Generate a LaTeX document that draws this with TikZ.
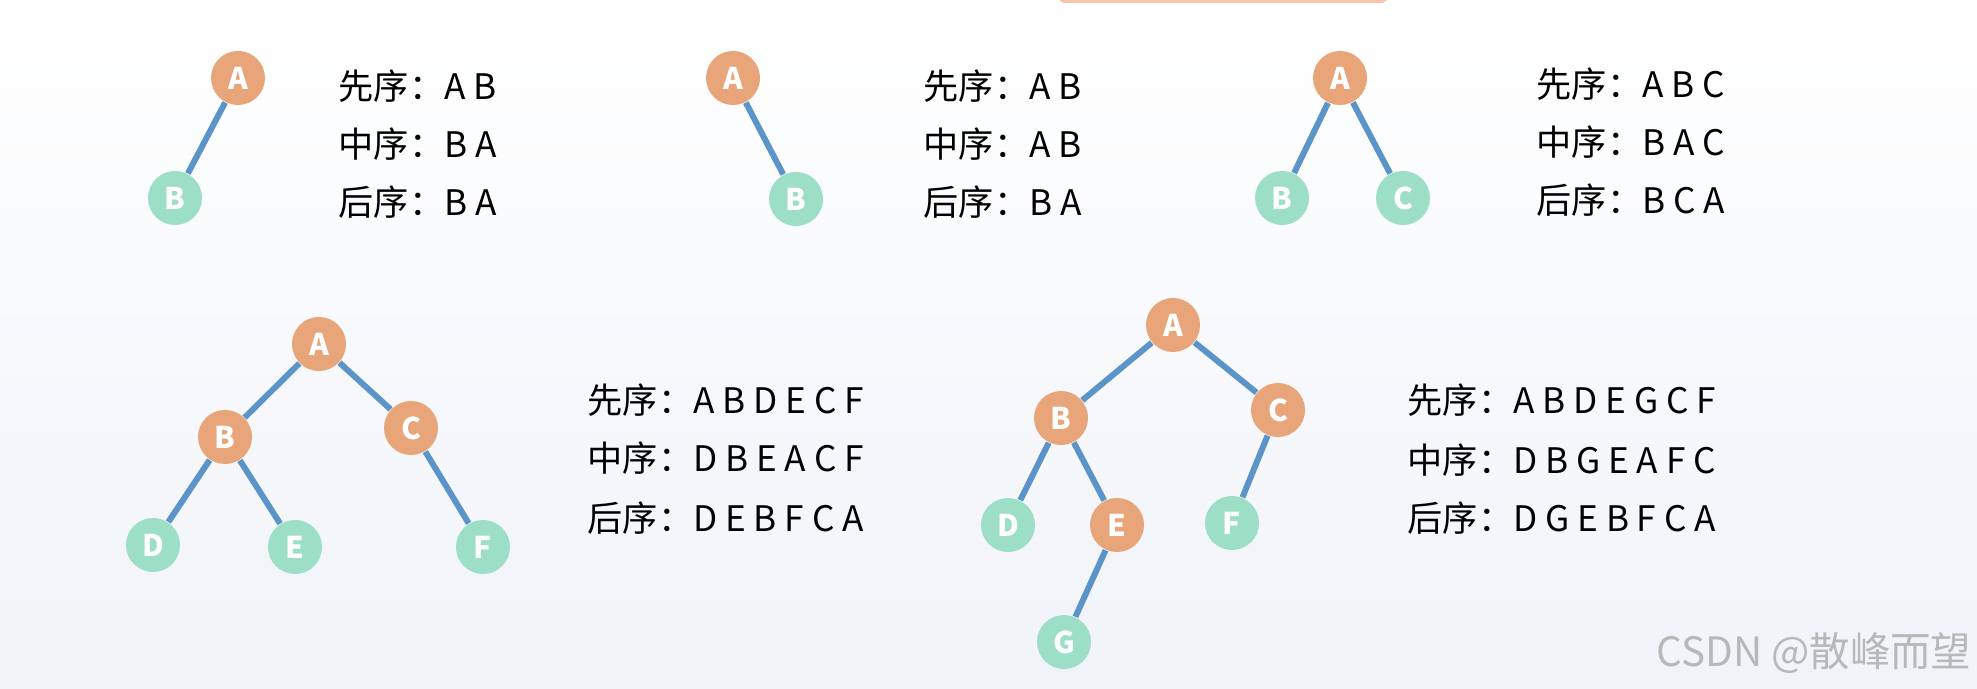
\documentclass[tikz,border=0pt]{standalone}
\usepackage{fontspec}
\setmainfont{Noto Sans CJK SC}
\usepackage{tikz}

\definecolor{nodeorange}{RGB}{233,165,122}
\definecolor{nodegreen}{RGB}{156,222,198}
\definecolor{edgeblue}{RGB}{90,148,200}
\definecolor{bgtop}{RGB}{255,255,255}
\definecolor{bgbottom}{RGB}{240,243,248}
\definecolor{tabsalmon}{RGB}{247,196,170}

\begin{document}
\begin{tikzpicture}[x=0.01cm,y=-0.01cm]
		\tikzset{
			treenode/.style={circle,fill=nodeorange,minimum size=0.54cm,inner sep=0pt,text=white,font=\fontsize{8.5}{8.5}\selectfont\bfseries},
			leafnode/.style={treenode,fill=nodegreen},
			seqtext/.style={anchor=west,inner sep=0pt,font=\fontsize{10}{12}\selectfont},
			link/.style={-,edgeblue,line width=1.7pt}
		}
		% fondo
		\shade[top color=bgtop,bottom color=bgbottom] (0,0) rectangle (1977,689);
		\useasboundingbox (0,0) rectangle (1977,689);
		\fill[tabsalmon,rounded corners=2pt] (1058,-10) rectangle (1388,3);
		
		% arbol 1
		\node (a1) at (238,78) [treenode] {A};
		\node (b1) at (175,198) [leafnode] {B};
		\path (a1) edge [link] (b1);
		\node (pre1) at (338,86) [seqtext] {先序：A B};
		\node (in1) at (338,144) [seqtext] {中序：B A};
		\node (post1) at (338,202) [seqtext] {后序：B A};
		
		% arbol 2
		\node (a2) at (733,78) [treenode] {A};
		\node (b2) at (796,199) [leafnode] {B};
		\path (a2) edge [link] (b2);
		\node (pre2) at (923,86) [seqtext] {先序：A B};
		\node (in2) at (923,144) [seqtext] {中序：A B};
		\node (post2) at (923,202) [seqtext] {后序：B A};
		
		% arbol 3
		\node (a3) at (1340,78) [treenode] {A};
		\node (b3) at (1282,198) [leafnode] {B};
		\node (c3) at (1403,198) [leafnode] {C};
		\path
		(a3) edge [link] (b3)
		(a3) edge [link] (c3);
		\node (pre3) at (1536,84) [seqtext] {先序：A B C};
		\node (in3) at (1536,142) [seqtext] {中序：B A C};
		\node (post3) at (1536,200) [seqtext] {后序：B C A};
		
		% arbol 4
		\node (a4) at (319,344) [treenode] {A};
		\node (b4) at (225,437) [treenode] {B};
		\node (c4) at (411,428) [treenode] {C};
		\node (d4) at (153,545) [leafnode] {D};
		\node (e4) at (295,547) [leafnode] {E};
		\node (f4) at (483,547) [leafnode] {F};
		\path
		(a4) edge [link] (b4)
		(a4) edge [link] (c4)
		(b4) edge [link] (d4)
		(b4) edge [link] (e4)
		(c4) edge [link] (f4);
		\node (pre4) at (587,400) [seqtext] {先序：A B D E C F};
		\node (in4) at (587,458) [seqtext] {中序：D B E A C F};
		\node (post4) at (587,518) [seqtext] {后序：D E B F C A};
		
		% arbol 5
		\node (a5) at (1173,325) [treenode] {A};
		\node (b5) at (1061,418) [treenode] {B};
		\node (c5) at (1278,410) [treenode] {C};
		\node (d5) at (1008,525) [leafnode] {D};
		\node (e5) at (1117,525) [treenode] {E};
		\node (f5) at (1232,523) [leafnode] {F};
		\node (g5) at (1064,642) [leafnode] {G};
		\path
		(a5) edge [link] (b5)
		(a5) edge [link] (c5)
		(b5) edge [link] (d5)
		(b5) edge [link] (e5)
		(c5) edge [link] (f5)
		(e5) edge [link] (g5);
		\node (pre5) at (1407,400) [seqtext] {先序：A B D E G C F};
		\node (in5) at (1407,460) [seqtext] {中序：D B G E A F C};
		\node (post5) at (1407,518) [seqtext] {后序：D G E B F C A};
		
		% marca
		\node (mark) at (1972,653) [anchor=east,inner sep=0pt,text=black!28,font=\fontsize{11.5}{12}\selectfont] {CSDN @散峰而望};
	\end{tikzpicture}
\end{document}
